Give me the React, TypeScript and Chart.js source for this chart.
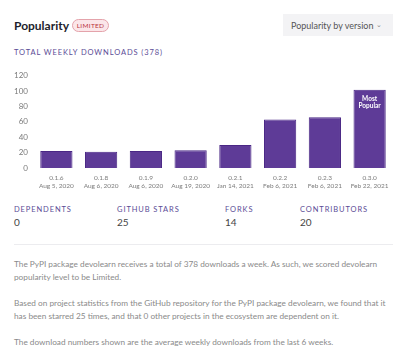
import React, { useEffect, useRef } from "react";
import { Chart, registerables } from "chart.js";

Chart.register(...registerables);

const versions = ["0.1.6", "0.1.8", "0.1.9", "0.2.0", "0.2.1", "0.2.2", "0.2.3", "0.3.0"];
const dates = ["Aug 5, 2020", "Aug 6, 2020", "Aug 6, 2020", "Aug 19, 2020", "Jan 14, 2021", "Feb 6, 2021", "Feb 6, 2021", "Feb 22, 2021"];
const downloads = [22, 21, 22, 23, 30, 63, 66, 102];
const yTicks = [0, 20, 40, 60, 80, 100, 120];
const statLabels = ["DEPENDENTS", "GITHUB STARS", "FORKS", "CONTRIBUTORS"];
const statValues = ["0", "25", "14", "20"];

const FONT = "Lato, 'Open Sans', sans-serif";

const mostPopularPlugin = {
  id: "mostPopular",
  afterDatasetsDraw(chart: any) {
    const meta = chart.getDatasetMeta(0);
    let maxI = 0;
    downloads.forEach((v, i) => { if (v > downloads[maxI]) maxI = i; });
    const el = meta.data[maxI];
    if (!el) return;
    const ctx = chart.ctx;
    ctx.save();
    ctx.fillStyle = "#ffffff";
    ctx.font = `bold 6.5px ${FONT}`;
    ctx.textAlign = "center";
    ctx.textBaseline = "middle";
    ctx.fillText("Most", el.x, el.y + 9);
    ctx.fillText("Popular", el.x, el.y + 16);
    ctx.restore();
  },
};

function BarChart() {
  const ref = useRef<HTMLCanvasElement>(null);
  useEffect(() => {
    if (!ref.current) return;
    const chart = new Chart(ref.current, {
      type: "bar",
      data: {
        labels: versions.map((v, i) => [v, dates[i]]),
        datasets: [
          {
            data: downloads,
            backgroundColor: "#5e3b97",
            borderColor: "#4a2785",
            borderWidth: 1,
            barPercentage: 0.72,
            categoryPercentage: 1,
          },
        ],
      },
      options: {
        animation: false,
        responsive: false,
        maintainAspectRatio: false,
        layout: { padding: { top: 10, right: 8, left: 0, bottom: 0 } },
        plugins: { legend: { display: false }, tooltip: { enabled: false } },
        scales: {
          y: {
            min: 0,
            max: 120,
            afterFit: (s: any) => { s.width = 34; },
            afterBuildTicks: (s: any) => { s.ticks = yTicks.map((v) => ({ value: v })); },
            grid: { display: false, drawTicks: false },
            border: { display: false },
            ticks: { color: "#7a7a7a", font: { family: FONT, size: 8 }, padding: 6 },
          },
          x: {
            afterFit: (s: any) => { s.height = 26; },
            grid: { display: false, drawTicks: false },
            border: { display: false },
            ticks: { color: "#7c7c7c", font: { family: FONT, size: 6.5, lineHeight: 1.25 }, padding: 6, maxRotation: 0, autoSkip: false },
          },
        },
      },
      plugins: [mostPopularPlugin],
    });
    return () => chart.destroy();
  }, []);
  return <canvas ref={ref} width={400} height={129} style={{ position: "absolute", left: 0, top: 65, width: 400, height: 129 }} />;
}

export default function App() {
  useEffect(() => {
    document.body.style.margin = "0";
  }, []);
  const statX = [14, 117, 225, 300];
  return (
    <div style={{ position: "relative", width: 400, height: 361, background: "#fff", fontFamily: FONT, overflow: "hidden" }}>
      <div style={{ position: "absolute", left: 14, top: 18, fontSize: 12, fontWeight: 700, color: "#1d1d2b" }}>Popularity</div>
      <div style={{ position: "absolute", left: 72, top: 19, width: 37, height: 13, boxSizing: "border-box", border: "1px solid #e4a3ab", background: "#fbe6e9", borderRadius: 7, color: "#b8323f", fontSize: 6.5, letterSpacing: 0.3, display: "flex", alignItems: "center", justifyContent: "center" }}>LIMITED</div>
      <div style={{ position: "absolute", left: 283, top: 14, width: 110, height: 22, background: "#f3f3f5", color: "#555", fontSize: 9, display: "flex", alignItems: "center", boxSizing: "border-box", paddingLeft: 8 }}>
        Popularity by version
        <span style={{ position: "absolute", left: 93, top: 6, fontSize: 7, color: "#888" }}>⌄</span>
      </div>
      <div style={{ position: "absolute", left: 14, top: 48, fontSize: 7.5, letterSpacing: 0.9, color: "#5b4c96" }}>TOTAL WEEKLY DOWNLOADS (378)</div>
      <BarChart />
      {statLabels.map((l, i) => (
        <div key={l} style={{ position: "absolute", left: statX[i], top: 205 }}>
          <div style={{ fontSize: 7.5, letterSpacing: 0.9, color: "#5b4c96" }}>{l}</div>
          <div style={{ fontSize: 10, color: "#444", marginTop: 2 }}>{statValues[i]}</div>
        </div>
      ))}
      <div style={{ position: "absolute", left: 14, top: 244, width: 379, height: 1, background: "#ececef" }} />
      <div style={{ position: "absolute", left: 14, top: 258, width: 372, fontSize: 8.25, lineHeight: "13px", color: "#8a8a8a" }}>
        <div>The PyPI package devolearn receives a total of 378 downloads a week. As such, we scored devolearn popularity level to be Limited.</div>
        <div style={{ marginTop: 13 }}>Based on project statistics from the GitHub repository for the PyPI package devolearn, we found that it has been starred 25 times, and that 0 other projects in the ecosystem are dependent on it.</div>
        <div style={{ marginTop: 13 }}>The download numbers shown are the average weekly downloads from the last 6 weeks.</div>
      </div>
    </div>
  );
}
